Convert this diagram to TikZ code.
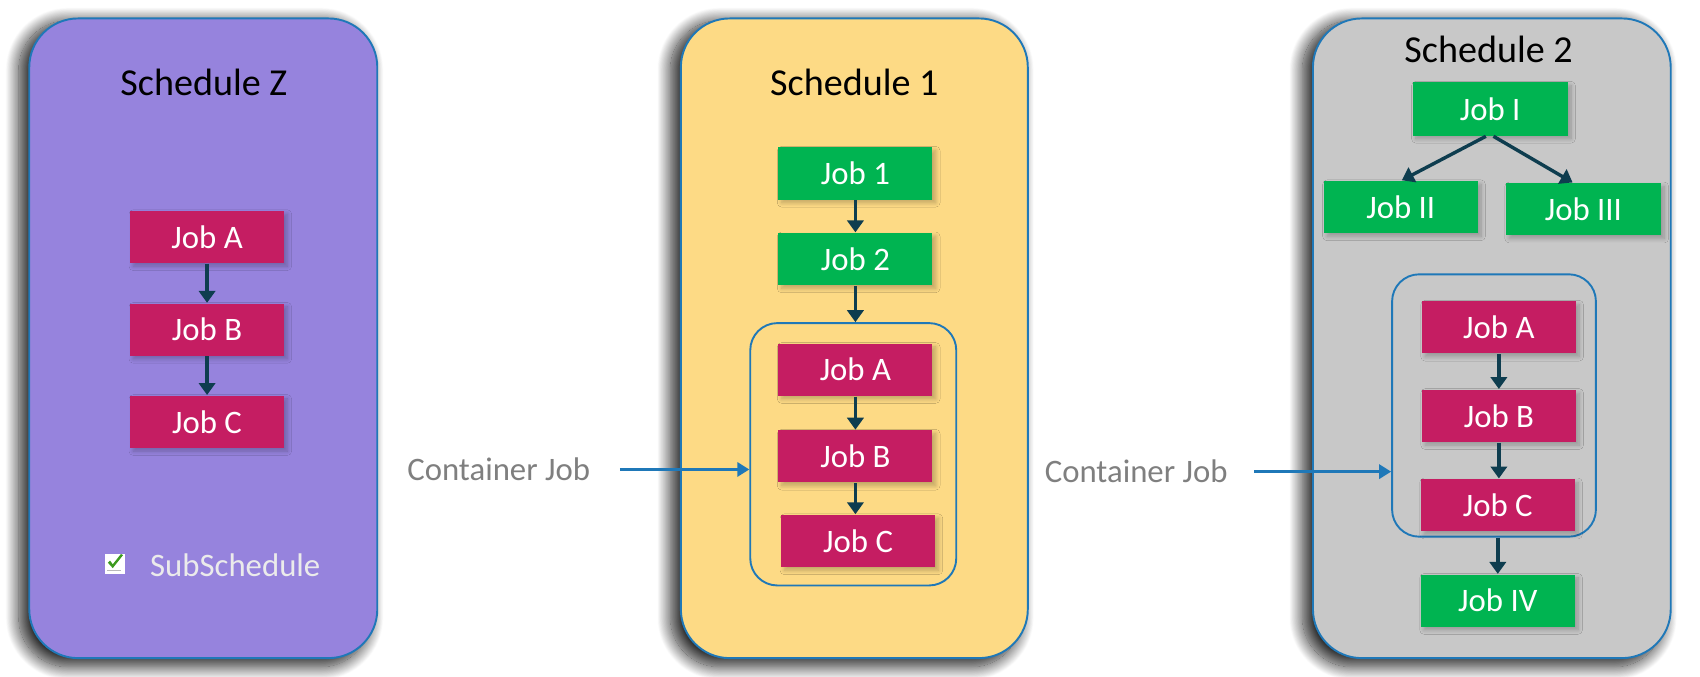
\documentclass[tikz,border=0pt]{standalone}
\usepackage{fontspec}
\setmainfont{Carlito}
\usetikzlibrary{arrows.meta,shadows.blur}

\definecolor{schedz}{HTML}{9683DD}
\definecolor{schedone}{HTML}{FDDA85}
\definecolor{schedtwo}{HTML}{C8C8C8}
\definecolor{jobred}{HTML}{C51D62}
\definecolor{jobgreen}{HTML}{00B451}
\definecolor{edgeblue}{HTML}{1F78B8}
\definecolor{flowdark}{HTML}{0E3D4F}
\definecolor{notegray}{HTML}{7F7F7F}
\definecolor{checkgreen}{HTML}{3C9A1E}

\tikzset{
	sched/.style={draw=edgeblue, line width=0.5pt, rounded corners=4.5mm, minimum height=59mm,
		blur shadow={shadow xshift=-0.8mm, shadow yshift=-0.5mm, shadow scale=1.01, shadow blur radius=1.2mm,
			shadow blur steps=24, shadow opacity=85}},
	jobbox/.style={minimum width=14.2mm, minimum height=4.8mm, inner sep=0pt, text=white,
		font=\fontsize{8.6}{10}\selectfont,
		blur shadow={shadow xshift=0.3mm, shadow yshift=-0.3mm, shadow blur radius=0.4mm,
			shadow blur steps=10, shadow opacity=25}},
	redjob/.style={jobbox, fill=jobred},
	greenjob/.style={jobbox, fill=jobgreen},
	container/.style={draw=edgeblue, line width=0.5pt, rounded corners=2.5mm, minimum width=19mm, minimum height=24.2mm},
	flow/.style={draw=flowdark, line width=0.9pt, -{Triangle[length=1.1mm,width=1.5mm]}},
	ptr/.style={draw=edgeblue, line width=0.7pt, -{Triangle[length=1.1mm,width=1.3mm]}},
	title/.style={font=\fontsize{10}{12}\selectfont},
	note/.style={font=\fontsize{8.6}{10}\selectfont, text=notegray},
}

\begin{document}
\begin{tikzpicture}[x=0.1mm, y=-0.1mm]
	\useasboundingbox (0,0) rectangle (1568,624.4);

	% schedule frames
	\node[sched, fill=schedz, minimum width=32.1mm] (schedZ) at (187.5,312) {};
	\node[sched, fill=schedone, minimum width=32mm] (schedOne) at (788,312) {};
	\node[sched, fill=schedtwo, minimum width=33mm] (schedTwo) at (1376,312) {};

	\node[title] (titleZ) at (188,76) {Schedule Z};
	\node[title] (titleOne) at (788,76) {Schedule 1};
	\node[title] (titleTwo) at (1373,46) {Schedule 2};

	% schedule Z
	\node[redjob] (zA) at (191,218.5) {Job A};
	\node[redjob] (zB) at (191,304) {Job B};
	\node[redjob] (zC) at (191,389) {Job C};
	\draw[flow] (zA) -- (zB);
	\draw[flow] (zB) -- (zC);

	\node[fill=white, minimum size=1.8mm, inner sep=0pt] (chk) at (106,520) {};
	\draw[gray!55, line width=0.3pt] (99,526.5) -- (112,526.5);
	\fill[checkgreen] (99.5,519) -- (104,524) -- (113.5,512) -- (111.5,511) -- (104,520.5) -- (101.5,517) -- cycle;
	\node[font=\fontsize{8.6}{10}\selectfont, text=white!92!black] (subsch) at (217,521) {SubSchedule};

	% schedule 1
	\node[greenjob] (oneJ1) at (789,160) {Job 1};
	\node[greenjob] (oneJ2) at (789,239) {Job 2};
	\node[container] (boxOne) at (787,419) {};
	\node[redjob] (oneA) at (789,341) {Job A};
	\node[redjob] (oneB) at (789,421) {Job B};
	\node[redjob] (oneC) at (791.5,499) {Job C};
	\draw[flow] (oneJ1) -- (oneJ2);
	\draw[flow] (oneJ2) -- (oneJ2 |- boxOne.north);
	\draw[flow] (oneA) -- (oneA |- oneB.north);
	\draw[flow] (oneB) -- (oneB |- oneC.north);

	\node[note] (contOne) at (460,433) {Container Job};
	\draw[ptr] ([xshift=1.5mm]contOne.east) -- (contOne.east -| boxOne.west);

	% schedule 2
	\node[greenjob, minimum width=14.3mm, minimum height=4.9mm] (twoI) at (1374.5,100.5) {Job I};
	\node[greenjob] (twoII) at (1292,191) {Job II};
	\node[greenjob, minimum width=14.3mm] (twoIII) at (1460.5,193) {Job III};
	\draw[flow] ([xshift=-0.4mm]twoI.south) -- ([xshift=0.1mm]twoII.north);
	\draw[flow] ([xshift=0.3mm]twoI.south) -- ([xshift=-1mm]twoIII.north);

	\node[container, minimum width=18.8mm] (boxTwo) at (1378,374) {};
	\node[redjob] (twoA) at (1382.5,302) {Job A};
	\node[redjob] (twoB) at (1382.5,383.5) {Job B};
	\node[redjob] (twoC) at (1381.5,466) {Job C};
	\node[greenjob] (twoIV) at (1381.5,554) {Job IV};
	\draw[flow] (twoA) -- (twoA |- twoB.north);
	\draw[flow] (twoB) -- (twoB |- twoC.north);
	\draw[flow] (twoIV.north |- boxTwo.south) -- (twoIV);

	\node[note] (contTwo) at (1048,435) {Container Job};
	\draw[ptr] ([xshift=1.2mm]contTwo.east) -- (contTwo.east -| boxTwo.west);
\end{tikzpicture}
\end{document}
